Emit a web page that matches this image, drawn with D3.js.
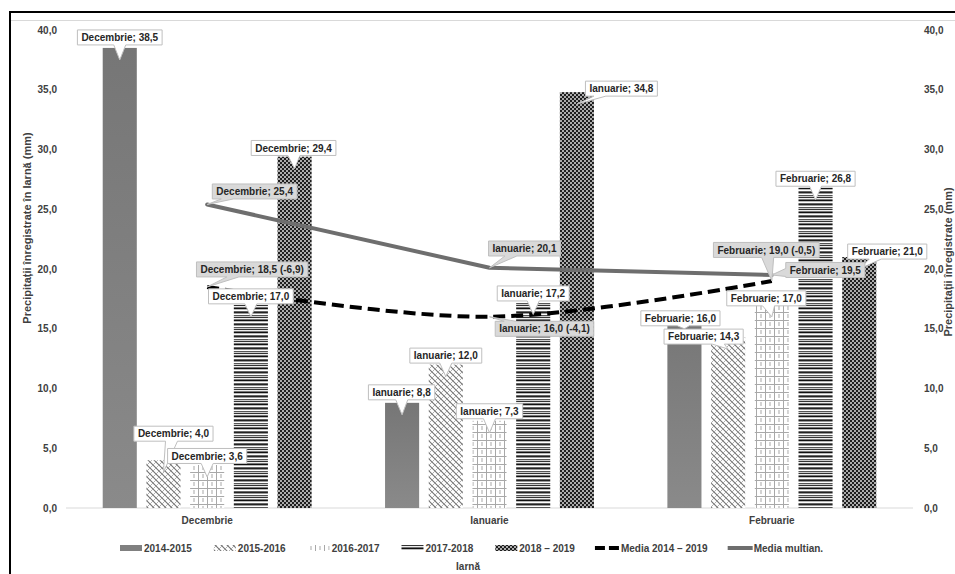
<!DOCTYPE html>
<html><head><meta charset="utf-8">
<script src="https://cdn.jsdelivr.net/npm/d3@7"></script>
<style>
body{margin:0;background:#fff}
svg{display:block}
text{font-family:"Liberation Sans",Arial,sans-serif;font-weight:bold}
</style>
</head><body>
<svg id="c" width="955" height="574"></svg>
<script>
// ---------- DATA ----------
const categories = ["Decembrie", "Ianuarie", "Februarie"];
const barSeries = ["2014-2015", "2015-2016", "2016-2017", "2017-2018", "2018 – 2019"];
const v2014_2015 = [38.5, 8.8, 16.0];
const v2015_2016 = [4.0, 12.0, 14.3];
const v2016_2017 = [3.6, 7.3, 17.0];
const v2017_2018 = [17.0, 17.2, 26.8];
const v2018_2019 = [29.4, 34.8, 21.0];
const lineSeries = ["Media 2014 – 2019", "Media multian."];
const media2014_2019 = [18.5, 16.0, 19.0];
const mediaDiff = [-6.9, -4.1, -0.5];
const mediaMultian = [25.4, 20.1, 19.5];
const yTicks = [0, 5, 10, 15, 20, 25, 30, 35, 40];
const yTitleLeft = "Precipitații înregistrate în Iarnă (mm)";
const yTitleRight = "Precipitații înregistrate (mm)";
const xTitle = "Iarnă";

const barValues = [v2014_2015, v2015_2016, v2016_2017, v2017_2018, v2018_2019];

// label box offsets (layout), per series then category: [dx, dy] of box centre from point
const labelOffsets = [
  [[0, -10.5], [-0.5, -10.5], [-4, 1.5]],
  [[10, -26.5], [0, -9], [-24.5, -0.5]],
  [[0, -9], [0, -9.5], [-5.5, -6.5]],
  [[0, -8.5], [0, -9], [0, -9]],
  [[-1, -8.7], [44.5, -3.5], [28, -5.5]],
  [[45, -17.5], [55, 12], [-5.5, -31]],
  [[47.5, -13], [35, -19.3], [53.5, -5]]
];

// ---------- SETUP ----------
const svg = d3.select("#c");
const fmt = v => (+v).toFixed(1).replace(".", ",");
const defs = svg.append("defs");

// gradient for 2014-2015
const gr = defs.append("linearGradient").attr("id", "g0").attr("x1", 0).attr("y1", 0).attr("x2", 0).attr("y2", 1);
gr.append("stop").attr("offset", "0%").attr("stop-color", "#767676");
gr.append("stop").attr("offset", "100%").attr("stop-color", "#8a8a8a");

// pattern 2015-2016 : diagonal weave
const p1 = defs.append("pattern").attr("id", "p1").attr("patternUnits", "userSpaceOnUse").attr("width", 6).attr("height", 6);
p1.append("rect").attr("width", 6).attr("height", 6).attr("fill", "#fff");
p1.append("path").attr("d", "M-1,-1 L7,7 M-4,2 L2,8 M2,-4 L8,2").attr("stroke", "#737373").attr("stroke-width", 1.1);
p1.append("path").attr("d", "M0,6 L6,0").attr("stroke", "#a8a8a8").attr("stroke-width", 0.9);

// pattern 2016-2017 : grid
const p2 = defs.append("pattern").attr("id", "p2").attr("patternUnits", "userSpaceOnUse").attr("width", 9).attr("height", 8);
p2.append("rect").attr("width", 9).attr("height", 8).attr("fill", "#fff");
p2.append("path").attr("d", "M0,0.5 H9 M0.5,0 V8 M5,2 V6").attr("stroke", "#a8a8a8").attr("stroke-width", 1);

// pattern 2017-2018 : horizontal stripes
const p3 = defs.append("pattern").attr("id", "p3").attr("patternUnits", "userSpaceOnUse").attr("width", 4).attr("height", 12);
const stripeCols = ["#222", "#999", "#fff", "#555", "#ccc", "#333", "#eee", "#777", "#111", "#bbb", "#fff", "#666"];
stripeCols.forEach((c, i) => p3.append("rect").attr("x", 0).attr("y", i).attr("width", 4).attr("height", 1).attr("fill", c));

// pattern 2018-2019 : dark dotted
const p4 = defs.append("pattern").attr("id", "p4").attr("patternUnits", "userSpaceOnUse").attr("width", 4).attr("height", 4);
p4.append("rect").attr("width", 4).attr("height", 4).attr("fill", "#1e1e1e");
p4.append("circle").attr("cx", 1).attr("cy", 1).attr("r", 0.95).attr("fill", "#e8e8e8");
p4.append("circle").attr("cx", 3).attr("cy", 3).attr("r", 0.95).attr("fill", "#e8e8e8");

const fills = ["url(#g0)", "url(#p1)", "url(#p2)", "url(#p3)", "url(#p4)"];
const legendFills = ["#808080", "url(#p1)", "url(#p2)", "url(#p3)", "url(#p4)"];

// frame
svg.append("line").attr("x1", 10).attr("x2", 955).attr("y1", 12).attr("y2", 12).attr("stroke", "#000").attr("stroke-width", 2);
svg.append("line").attr("x1", 10).attr("x2", 10).attr("y1", 11).attr("y2", 574).attr("stroke", "#000").attr("stroke-width", 2);
svg.append("line").attr("x1", 11).attr("x2", 955).attr("y1", 20.5).attr("y2", 20.5).attr("stroke", "#d9d9d9").attr("stroke-width", 1);

// scales
const x0 = d3.scaleBand().domain(categories).range([66, 913]).paddingInner(0).paddingOuter(0);
const x1 = d3.scaleBand().domain(barSeries).range([0, x0.bandwidth()]).paddingInner(0.22).paddingOuter(0.84);
const y = d3.scaleLinear().domain([0, 40]).range([508, 30]);

// baseline gridline
svg.append("line").attr("x1", x0.range()[0]).attr("x2", x0.range()[1]).attr("y1", y(0)).attr("y2", y(0))
  .attr("stroke", "#d9d9d9").attr("stroke-width", 1);

// axes
const axL = d3.axisLeft(y).tickValues(yTicks).tickFormat(fmt).tickSize(0).tickPadding(0);
const gL = svg.append("g").attr("transform", "translate(57,0)").call(axL);
const axR = d3.axisRight(y).tickValues(yTicks).tickFormat(fmt).tickSize(0).tickPadding(0);
const gR = svg.append("g").attr("transform", "translate(924,0)").call(axR);
const axB = d3.axisBottom(x0).tickSize(0).tickPadding(0);
const gB = svg.append("g").attr("transform", "translate(0,517)").call(axB);
[gL, gR, gB].forEach(g => {
  g.select(".domain").remove();
  g.selectAll("text").attr("font-size", 10).attr("font-weight", "bold").attr("fill", "#404040")
    .attr("font-family", "'Liberation Sans',Arial,sans-serif");
});

// axis titles
svg.append("text").attr("transform", "translate(31,228) rotate(-90)").attr("text-anchor", "middle")
  .attr("font-size", 11).attr("fill", "#404040").text(yTitleLeft);
svg.append("text").attr("transform", "translate(952,262) rotate(-90)").attr("text-anchor", "middle")
  .attr("font-size", 11).attr("fill", "#404040").text(yTitleRight);
svg.append("text").attr("x", 468).attr("y", 570).attr("text-anchor", "middle")
  .attr("font-size", 10).attr("fill", "#404040").text(xTitle);

// bars
const barsG = svg.append("g");
barValues.forEach((vals, si) => {
  barsG.selectAll(null).data(vals).enter().append("rect")
    .attr("x", (d, i) => x0(categories[i]) + x1(barSeries[si]))
    .attr("y", d => y(d))
    .attr("width", x1.bandwidth())
    .attr("height", d => y(0) - y(d))
    .attr("fill", fills[si]);
});

// lines
const cx = c => x0(c) + x0.bandwidth() / 2;
const lineMedia = d3.line().x((d, i) => cx(categories[i])).y(d => y(d)).curve(d3.curveCatmullRom.alpha(0.5));
const lineMulti = d3.line().x((d, i) => cx(categories[i])).y(d => y(d));
svg.append("path").attr("d", lineMulti(mediaMultian)).attr("fill", "none").attr("stroke", "#6e6e6e")
  .attr("stroke-width", 4).attr("stroke-linejoin", "round").attr("stroke-linecap", "round");
svg.append("path").attr("d", lineMedia(media2014_2019)).attr("fill", "none").attr("stroke", "#000")
  .attr("stroke-width", 4).attr("stroke-dasharray", "12,6");

// callouts
const labG = svg.append("g");
function callout(bx, by, tx, ty, txt, fill) {
  const g = labG.append("g");
  const path = g.append("path");
  const t = g.append("text").attr("x", bx).attr("y", by).attr("dy", "0.36em").attr("text-anchor", "middle")
    .attr("font-size", 10).attr("fill", "#262626").text(txt);
  const w = t.node().getComputedTextLength() + 8, h = 15;
  const xa = bx - w / 2, xb = bx + w / 2, ya = by - h / 2, yb = by + h / 2;
  let d;
  const inside = tx > xa && tx < xb && ty > ya && ty < yb;
  if (inside) {
    d = `M${xa},${ya}H${xb}V${yb}H${xa}Z`;
  } else {
    const dx = tx - bx, dy = ty - by;
    const tX = dx !== 0 ? (w / 2) / Math.abs(dx) : Infinity;
    const tY = dy !== 0 ? (h / 2) / Math.abs(dy) : Infinity;
    const hw = 6, hv = 4;
    if (tY <= tX) {
      let px = bx + dx * tY;
      px = Math.max(xa + hw + 1, Math.min(xb - hw - 1, px));
      if (dy > 0) d = `M${xa},${ya}H${xb}V${yb}H${px + hw}L${tx},${ty}L${px - hw},${yb}H${xa}Z`;
      else d = `M${xa},${ya}H${px - hw}L${tx},${ty}L${px + hw},${ya}H${xb}V${yb}H${xa}Z`;
    } else {
      let py = by + dy * tX;
      py = Math.max(ya + hv + 1, Math.min(yb - hv - 1, py));
      if (dx > 0) d = `M${xa},${ya}H${xb}V${py - hv}L${tx},${ty}L${xb},${py + hv}V${yb}H${xa}Z`;
      else d = `M${xa},${ya}H${xb}V${yb}H${xa}V${py + hv}L${tx},${ty}L${xa},${py - hv}Z`;
    }
  }
  path.attr("d", d).attr("fill", fill).attr("stroke", "#bfbfbf").attr("stroke-width", 1);
}

barValues.forEach((vals, si) => {
  vals.forEach((v, ci) => {
    const c = categories[ci];
    const px = x0(c) + x1(barSeries[si]) + x1.bandwidth() / 2;
    const py = y(v);
    const [ox, oy] = labelOffsets[si][ci];
    callout(px + ox, py + oy, px, py + 12, `${c}; ${fmt(v)}`, "#fff");
  });
});
media2014_2019.forEach((v, ci) => {
  const c = categories[ci];
  const px = cx(c), py = y(v);
  const [ox, oy] = labelOffsets[5][ci];
  callout(px + ox, py + oy, px, py, `${c}; ${fmt(v)} (${fmt(mediaDiff[ci])})`, "#d9d9d9");
});
mediaMultian.forEach((v, ci) => {
  const c = categories[ci];
  const px = cx(c), py = y(v);
  const [ox, oy] = labelOffsets[6][ci];
  callout(px + ox, py + oy, px, py, `${c}; ${fmt(v)}`, "#d9d9d9");
});

// legend
const legendItems = barSeries.map((s, i) => ({ name: s, type: "bar", fill: legendFills[i] }))
  .concat([{ name: lineSeries[0], type: "dash" }, { name: lineSeries[1], type: "line" }]);
const lg = svg.append("g");
let lx = 144;
const ly = 548;
legendItems.forEach(it => {
  if (it.type === "bar") {
    lg.append("rect").attr("x", lx - 24).attr("y", ly - 3).attr("width", 22).attr("height", 6).attr("fill", it.fill);
  } else if (it.type === "dash") {
    lg.append("line").attr("x1", lx - 26).attr("x2", lx - 1).attr("y1", ly).attr("y2", ly)
      .attr("stroke", "#000").attr("stroke-width", 4).attr("stroke-dasharray", "10,4");
  } else {
    lg.append("line").attr("x1", lx - 26).attr("x2", lx - 1).attr("y1", ly).attr("y2", ly)
      .attr("stroke", "#6e6e6e").attr("stroke-width", 4);
  }
  const t = lg.append("text").attr("x", lx).attr("y", ly).attr("dy", "0.36em").attr("font-size", 10)
    .attr("fill", "#404040").text(it.name);
  lx += t.node().getComputedTextLength() + 46;
});
</script>
</body></html>
